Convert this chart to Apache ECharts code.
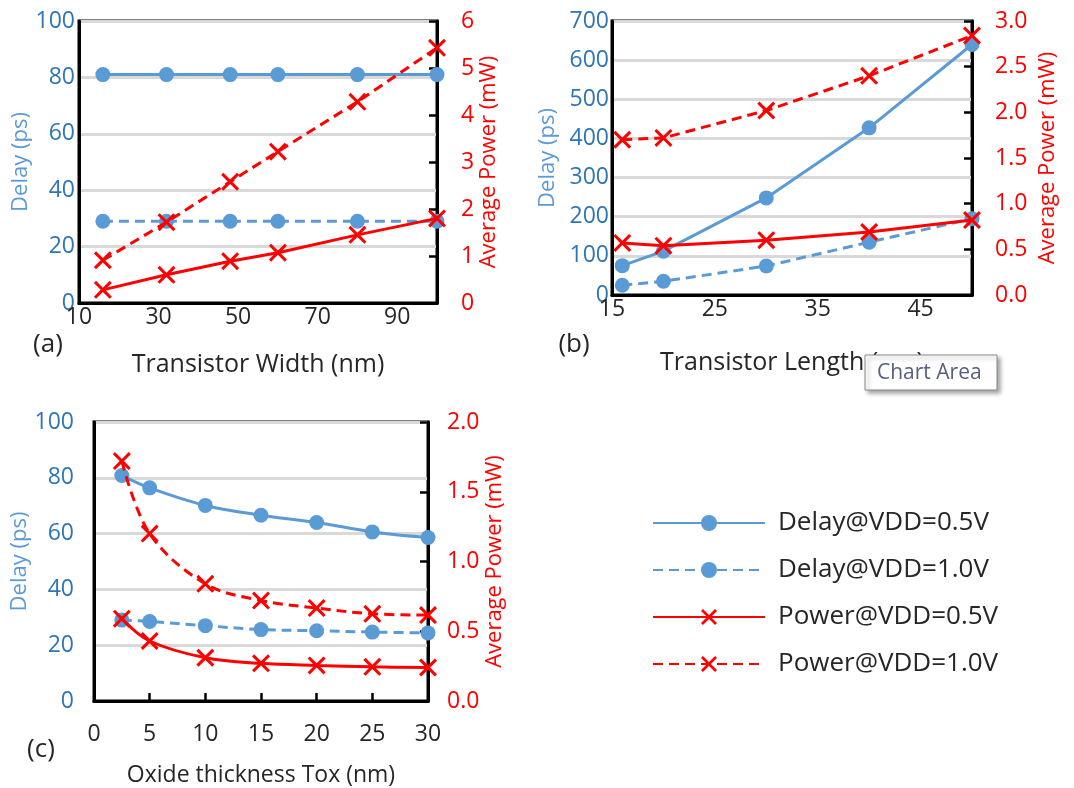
<!DOCTYPE html>
<html><head><meta charset="utf-8">
<script src="https://cdn.jsdelivr.net/npm/echarts@6/dist/echarts.min.js"></script>
<style>html,body{margin:0;padding:0;background:#fff}#c{width:1074px;height:788px}</style>
</head><body><div id="c"></div>
<script>
const seriesNames = ['Delay@VDD=0.5V','Delay@VDD=1.0V','Power@VDD=0.5V','Power@VDD=1.0V'];
// (a) Transistor width
const widthX   = [16,32,48,60,80,100];
const aDelay05 = [81,81,81,81,81,81];
const aDelay10 = [29,29,29,29,29,29];
const aPower05 = [0.28,0.60,0.89,1.07,1.45,1.80];
const aPower10 = [0.91,1.72,2.58,3.22,4.28,5.43];
// (b) Transistor length
const lengthX  = [16,20,30,40,50];
const bDelay05 = [75,112,248,427,640];
const bDelay10 = [25,35,74,135,195];
const bPower05 = [0.57,0.54,0.60,0.69,0.82];
const bPower10 = [1.70,1.72,2.02,2.40,2.84];
// (c) Oxide thickness
const toxX     = [2.5,5,10,15,20,25,30];
const cDelay05 = [80.8,76.4,70.1,66.6,64.0,60.6,58.6];
const cDelay10 = [29,28.5,27,25.6,25.2,24.7,24.4];
const cPower05 = [0.59,0.43,0.31,0.27,0.255,0.245,0.24];
const cPower10 = [1.72,1.20,0.84,0.72,0.666,0.625,0.616];
// axis ranges [min,max,interval]
const aXRange = [10,100,20], aYRange = [0,100,20], aY2Range = [0,6,1];
const bXRange = [15,50,10], bYRange = [0,700,100], bY2Range = [0,3,0.5];
const cXRange = [0,30,5],  cYRange = [0,100,20], cY2Range = [0,2,0.5];
const xNames = ['Transistor Width (nm)','Transistor Length (nm)','Oxide thickness Tox (nm)'];
const panelLabels = ['(a)','(b)','(c)'];

const FONT = '"Open Sans"';
const BLUE = '#5B9BD5', BLUE_TXT = '#2E75B6', RED = '#FF0000', INK = '#262626';
const CROSS = 'path://M0,12L12,0L50,38L88,0L100,12L62,50L100,88L88,100L50,62L12,100L0,88L38,50Z';

const grids = [
  {left:79, top:21, width:358, height:282},
  {left:612, top:21, width:360, height:274},
  {left:94, top:422, width:334, height:280}
].map(g => Object.assign(g, {show:true, borderColor:'#000', borderWidth:3, backgroundColor:'transparent', containLabel:false}));

const xCfg = [
  {r:aXRange, margin:3, gap:49, ticks:false, hideMax:true},
  {r:bXRange, margin:3, gap:55, ticks:false, hideMax:true},
  {r:cXRange, margin:22, gap:63, ticks:true, hideMax:false}
];
const xAxis = xCfg.map((c,i) => ({
  type:'value', gridIndex:i, min:c.r[0], max:c.r[1], interval:c.r[2],
  name:xNames[i], nameLocation:'middle', nameGap:c.gap,
  nameTextStyle:{color:INK, fontSize:i===2?23:25, fontFamily:FONT},
  axisLine:{show:true, onZero:false, lineStyle:{color:'#000', width:3}},
  axisTick:{show:c.ticks, inside:true, length:8, lineStyle:{color:'#000', width:2.5}},
  axisLabel:{color:INK, fontSize:23, fontFamily:FONT, margin:c.margin, showMaxLabel:!c.hideMax},
  splitLine:{show:false}
}));

const yL = [aYRange,bYRange,cYRange], yR = [aY2Range,bY2Range,cY2Range];
const yLMargin = [4,3,20], yLGap = [42,53,61];
const yRMargin = [24,23,19], yRGap = [40,65,54];
const yRdec = [0,1,1];
const yAxis = [];
for (let i=0;i<3;i++){
  yAxis.push({
    type:'value', gridIndex:i, position:'left', min:yL[i][0], max:yL[i][1], interval:yL[i][2],
    name:'Delay (ps)', nameLocation:'middle', nameGap:yLGap[i], nameRotate:90,
    nameTextStyle:{color:BLUE, fontSize:22, fontFamily:FONT},
    axisLine:{show:true, lineStyle:{color:'#000', width:3}},
    axisTick:{show:false},
    axisLabel:{color:BLUE_TXT, fontSize:23, fontFamily:FONT, margin:yLMargin[i]},
    splitLine:{show:true, lineStyle:{color:'#d9d9d9', width:3}}
  });
  yAxis.push({
    type:'value', gridIndex:i, position:'right', min:yR[i][0], max:yR[i][1], interval:yR[i][2],
    name:'Average Power (mW)', nameLocation:'middle', nameGap:yRGap[i], nameRotate:90,
    nameTextStyle:{color:RED, fontSize:22, fontFamily:FONT},
    axisLine:{show:true, lineStyle:{color:'#000', width:3}},
    axisTick:{show:true, inside:true, length:8, lineStyle:{color:'#000', width:2.5}},
    axisLabel:{color:RED, fontSize:23, fontFamily:FONT, margin:yRMargin[i],
      formatter: v => v.toFixed(yRdec[i])},
    splitLine:{show:false}
  });
}

const panels = [
  {x:widthX, d:[aDelay05,aDelay10,aPower05,aPower10], smooth:false},
  {x:lengthX, d:[bDelay05,bDelay10,bPower05,bPower10], smooth:false},
  {x:toxX, d:[cDelay05,cDelay10,cPower05,cPower10], smooth:0.35}
];
const series = [];
panels.forEach((p,i) => {
  p.d.forEach((vals,k) => {
    const isPower = k>=2, dashed = (k%2===1);
    series.push({
      name:seriesNames[k], type:'line', xAxisIndex:i, yAxisIndex:i*2+(isPower?1:0),
      data: p.x.map((x,j)=>[x, vals[j]]),
      smooth:p.smooth,
      symbol: isPower ? CROSS : 'circle',
      symbolSize: isPower ? 18 : 15,
      itemStyle:{color: isPower?RED:BLUE},
      lineStyle:{color: isPower?RED:BLUE, width:3, type: dashed?[10,6]:'solid'},
      z: isPower?3:2, animation:false
    });
  });
});

const chart = echarts.init(document.getElementById('c'), null, {renderer:'canvas'});
chart.setOption({
  backgroundColor:'#fff',
  animation:false,
  grid:grids, xAxis, yAxis, series,
  legend:{
    data:seriesNames, orient:'vertical', left:647, top:505,
    itemWidth:112, itemHeight:20, itemGap:21,
    textStyle:{fontSize:26, color:INK, fontFamily:FONT, padding:[0,0,0,8]}
  },
  graphic:[
    {type:'text', x:48, y:345, z:50, style:{text:panelLabels[0], fontSize:26, fontFamily:FONT, fill:INK, align:'center', verticalAlign:'middle'}},
    {type:'text', x:574, y:345, z:50, style:{text:panelLabels[1], fontSize:26, fontFamily:FONT, fill:INK, align:'center', verticalAlign:'middle'}},
    {type:'text', x:41, y:750, z:50, style:{text:panelLabels[2], fontSize:26, fontFamily:FONT, fill:INK, align:'center', verticalAlign:'middle'}},
    {type:'group', x:865, y:355, z:100, children:[
      {type:'rect', shape:{x:0,y:0,width:132,height:35}, z:100,
        style:{fill:'#fff', stroke:'#8a8a8a', lineWidth:1, shadowBlur:4, shadowOffsetX:3, shadowOffsetY:3, shadowColor:'rgba(0,0,0,0.35)'}},
      {type:'text', x:12, y:18, z:101, style:{text:'Chart Area', fontSize:21, fontFamily:FONT, fill:'#55607f', verticalAlign:'middle'}}
    ]}
  ]
});
</script></body></html>
